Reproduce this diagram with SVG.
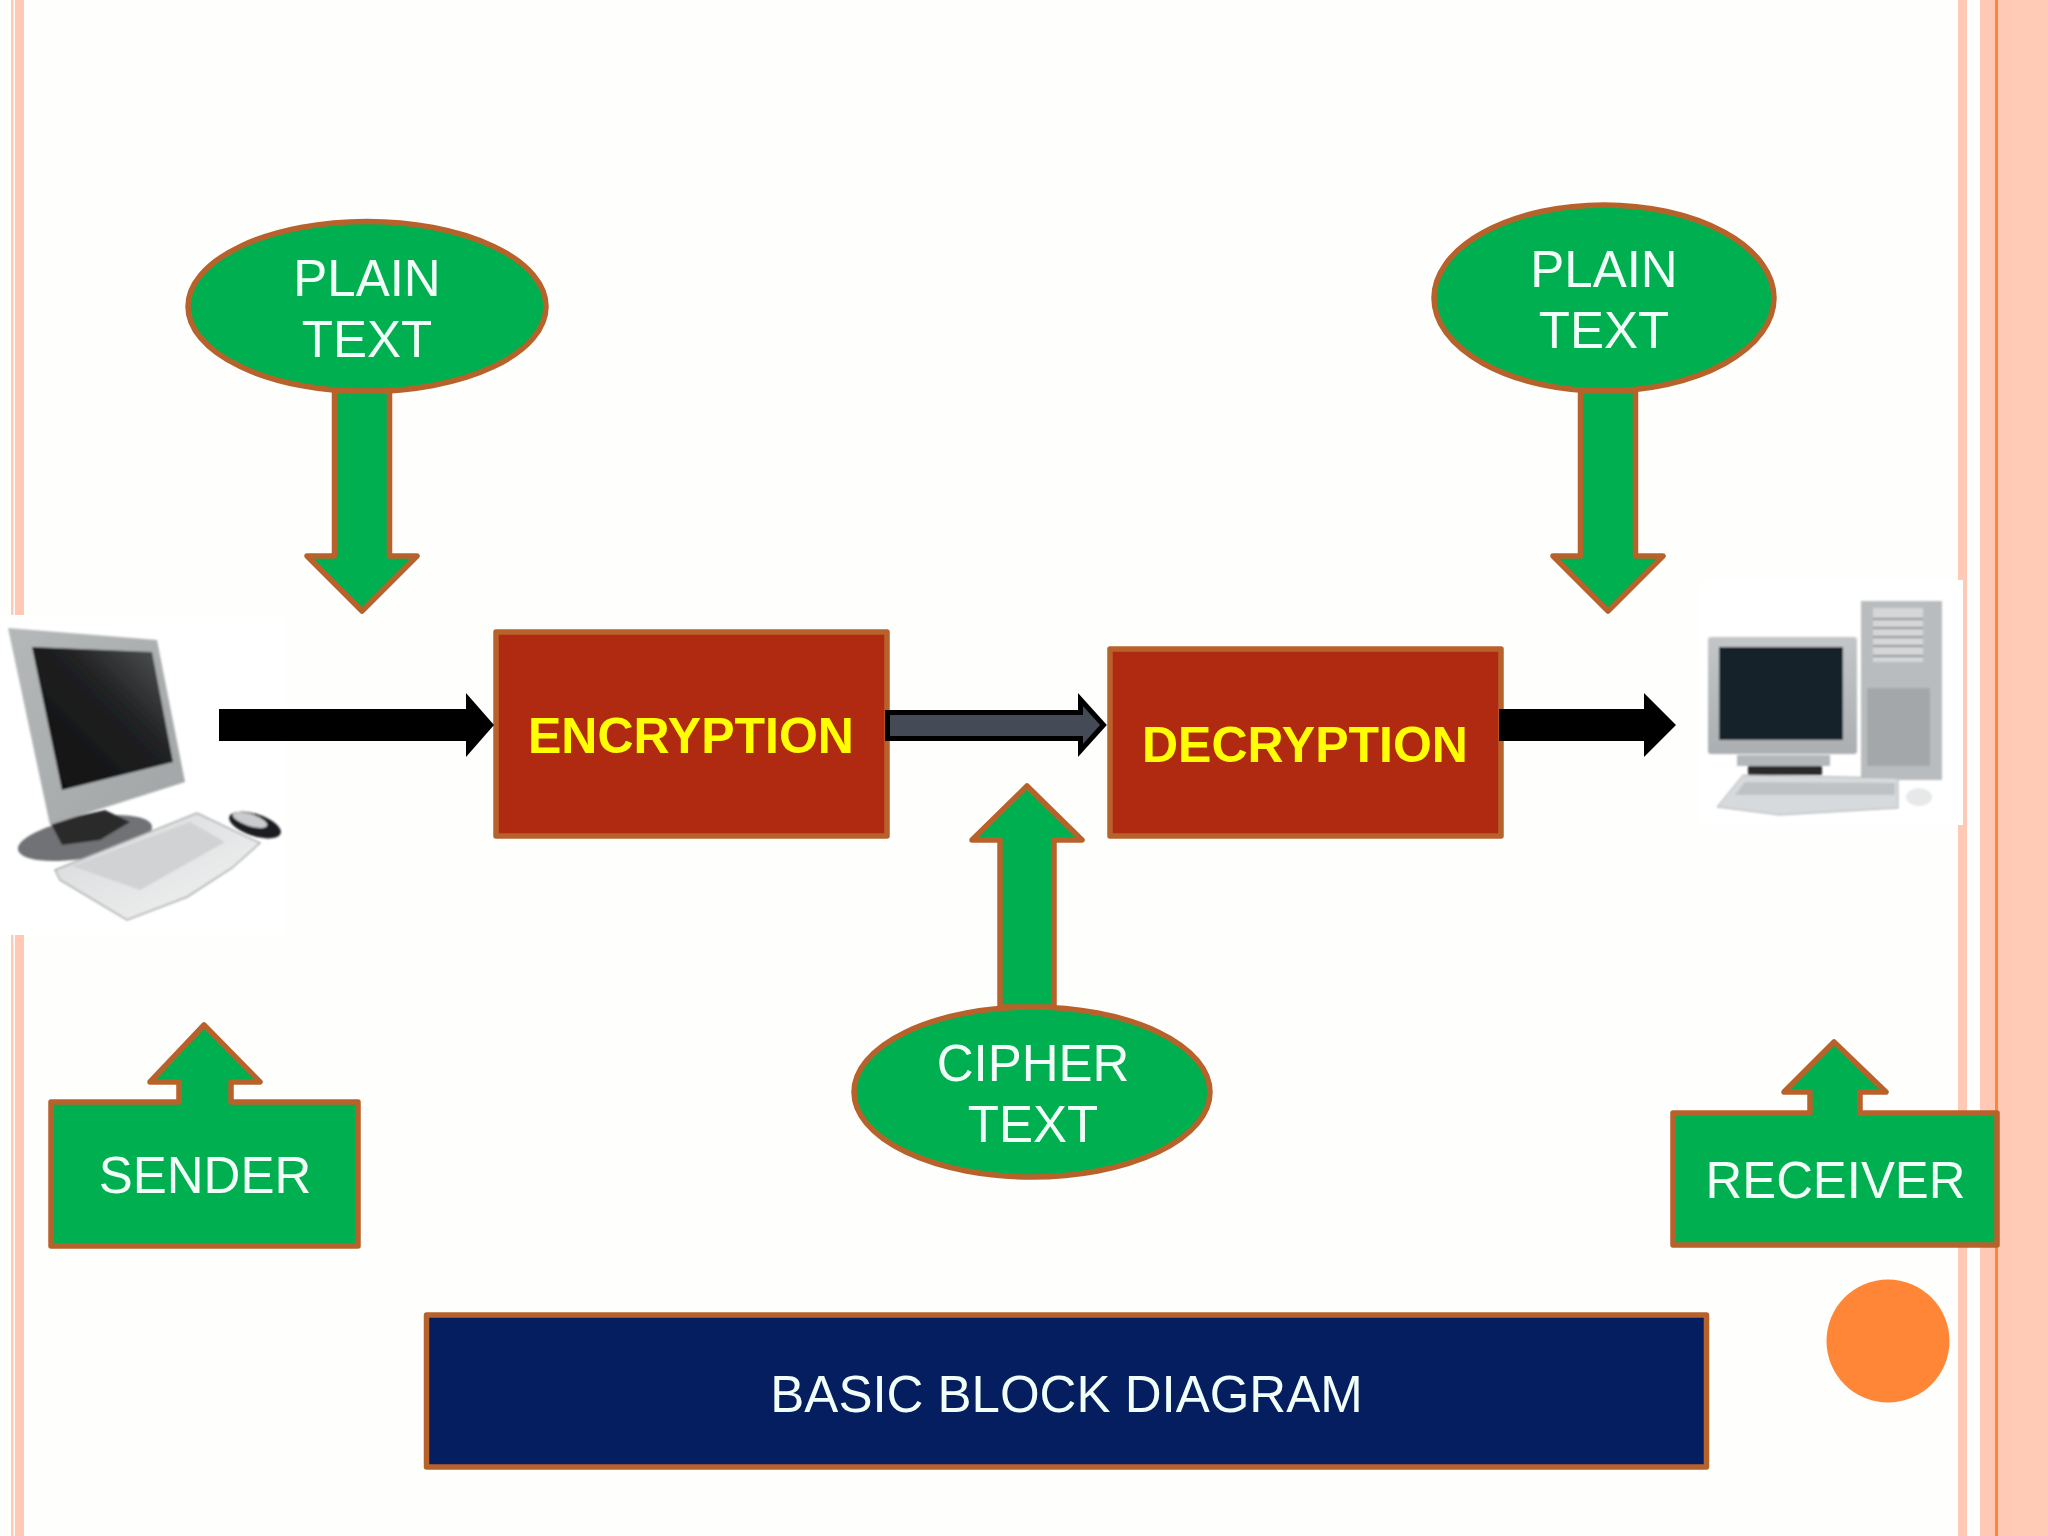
<svg xmlns="http://www.w3.org/2000/svg" width="2048" height="1536" viewBox="0 0 2048 1536">
<style>
.outline{stroke:#B8622B;stroke-width:5.5;stroke-linejoin:round}
.green{fill:#00B050}
.red{fill:#B02A12}
.lbl{font-family:"Liberation Sans",Arial,sans-serif;font-size:51px;fill:#F2FFF8;text-anchor:middle}
.bold{font-family:"Liberation Sans",Arial,sans-serif;font-size:50px;font-weight:bold;fill:#FFFF00;text-anchor:middle}
.stripe{fill:#FFC9B6}
</style>
<defs>
<linearGradient id="bezelL" x1="0" y1="0" x2="1" y2="1"><stop offset="0" stop-color="#B5B8B9"/><stop offset="1" stop-color="#A2A5A6"/></linearGradient>
<linearGradient id="scrL" x1="1" y1="0" x2="0" y2="1"><stop offset="0" stop-color="#56585A"/><stop offset="0.4" stop-color="#202122"/><stop offset="1" stop-color="#0D0D0E"/></linearGradient>
<linearGradient id="kbL" x1="0" y1="0" x2="1" y2="1"><stop offset="0" stop-color="#D6D8D9"/><stop offset="1" stop-color="#F2F3F3"/></linearGradient>
<linearGradient id="bezelR" x1="0" y1="0" x2="0" y2="1"><stop offset="0" stop-color="#C3C6C8"/><stop offset="1" stop-color="#ABAFB2"/></linearGradient>
<filter id="soft" x="-5%" y="-5%" width="110%" height="110%"><feGaussianBlur stdDeviation="0.8"/></filter>
</defs>
<rect id="background" width="2048" height="1536" fill="#FEFEFD"/>
<g id="frame">
<rect class="stripe" x="11" y="0" width="2.5" height="1536"/>
<rect class="stripe" x="15" y="0" width="9" height="1536"/>
<rect class="stripe" x="1958" y="0" width="9" height="1536"/>
<rect class="stripe" x="1980" y="0" width="15" height="1536"/>
<rect x="1995" y="0" width="3" height="1536" fill="#FF8636"/>
<rect class="stripe" x="1998" y="0" width="14" height="1536"/>
<rect x="2012" y="0" width="36" height="1536" fill="#FFCBB6"/>
</g>
<g id="sender-computer">
<rect x="0" y="615" width="285" height="320" fill="#FFFFFF"/>
<g filter="url(#soft)">
<ellipse cx="85" cy="838" rx="68" ry="20" transform="rotate(-10 85 838)" fill="#6F7274"/>
<path d="M50 822L105 810L130 822L100 840L62 845Z" fill="#2A2B2C"/>
<path d="M8 628L157 640L185 782L50 825Z" fill="url(#bezelL)"/>
<path d="M32 647L152 652L173 762L62 790Z" fill="url(#scrL)"/>
<path d="M55 870L197 813L260 843L232 868L187 897L127 920L60 880Z" fill="url(#kbL)" stroke="#A9ACAD" stroke-width="1.5"/>
<path d="M72 866L190 822L225 842L140 890Z" fill="#D0D2D3"/>
<ellipse cx="255" cy="825" rx="27" ry="11" transform="rotate(18 255 825)" fill="#1E1F20"/>
<ellipse cx="250" cy="820" rx="18" ry="6" transform="rotate(18 250 820)" fill="#C9CBCC"/>
</g>
</g>
<g id="receiver-computer">
<rect x="1700" y="580" width="263" height="245" fill="#FFFFFF"/>
<g filter="url(#soft)">
<rect x="1708" y="637" width="149" height="117" rx="3" fill="url(#bezelR)"/>
<rect x="1719" y="647" width="124" height="93" fill="#14222C"/>
<rect x="1737" y="755" width="93" height="11" fill="#B4B7B9"/>
<rect x="1748" y="766" width="74" height="9" fill="#2A2B2C"/>
<rect x="1861" y="601" width="81" height="179" fill="#B9BCBE"/>
<rect x="1873" y="608" width="50" height="54" fill="#D4D6D7"/>
<g fill="#8F9395"><rect x="1873" y="618" width="50" height="2"/><rect x="1873" y="627" width="50" height="2"/><rect x="1873" y="636" width="50" height="2"/><rect x="1873" y="645" width="50" height="2"/><rect x="1873" y="655" width="50" height="2"/></g>
<rect x="1867" y="688" width="63" height="78" fill="#A4A7A9"/>
<path d="M1717 807L1743 775L1898 778L1898 808L1780 815Z" fill="#D7DADC" stroke="#AEB1B3" stroke-width="1"/>
<path d="M1745 782L1895 783L1895 795L1735 795Z" fill="#BFC2C4"/>
<ellipse cx="1919" cy="797" rx="13" ry="9" fill="#E6E8E9"/>
</g>
</g>
<g id="encryption"><rect class="outline red" x="496" y="632" width="391" height="204"/><text class="bold" x="691" y="753">ENCRYPTION</text></g>
<g id="decryption"><rect class="outline red" x="1110" y="649" width="391" height="187"/><text class="bold" x="1305" y="762">DECRYPTION</text></g>
<g id="plain-text-in"><ellipse class="outline green" cx="367" cy="306.5" rx="179" ry="85"/><text class="lbl" x="367" y="296">PLAIN</text><text class="lbl" x="367" y="357">TEXT</text></g>
<g id="plain-text-out"><ellipse class="outline green" cx="1604" cy="298" rx="170" ry="93"/><text class="lbl" x="1604" y="287">PLAIN</text><text class="lbl" x="1604" y="348">TEXT</text></g>
<g id="cipher-text"><ellipse class="outline green" cx="1032" cy="1092" rx="178" ry="85"/><text class="lbl" x="1033" y="1081">CIPHER</text><text class="lbl" x="1033" y="1142">TEXT</text></g>
<g id="sender"><path class="outline green" d="M51 1102H179V1082H150L204 1025L260 1082H231V1102H358V1246H51Z"/><text class="lbl" x="205" y="1193">SENDER</text></g>
<g id="receiver"><path class="outline green" d="M1673 1113H1810V1092H1784L1834 1042L1886 1092H1860V1113H1997V1245H1673Z"/><text class="lbl" x="1835.5" y="1198" textLength="260" lengthAdjust="spacingAndGlyphs">RECEIVER</text></g>
<g id="title"><rect x="426.5" y="1315" width="1280" height="152" fill="#041E5F" class="outline"/><text class="lbl" x="1066.5" y="1412">BASIC BLOCK DIAGRAM</text></g>
<circle id="dot" cx="1888" cy="1341" r="61.5" fill="#FF8636"/>
<g id="connectors">
<path d="M219 709H466V693L494 725L466 757V741H219Z" fill="#000"/>
<path d="M1499 709H1644V693L1676 725L1644 757V741H1499Z" fill="#000"/>
<path d="M887.5 712.5H1080.5V699.5L1103.5 725L1080.5 750.5V738.5H887.5Z" fill="#444B57" stroke="#000" stroke-width="5"/>
<path class="outline green" d="M334.5 391V556H307L362 611L417 556H389.5V391Z"/>
<path class="outline green" d="M1580.5 391V556H1553L1608 611L1663 556H1635.5V391Z"/>
<path class="outline green" d="M1000 1007V840H972L1027 786L1082 840H1054V1007Z"/>
</g>
</svg>
